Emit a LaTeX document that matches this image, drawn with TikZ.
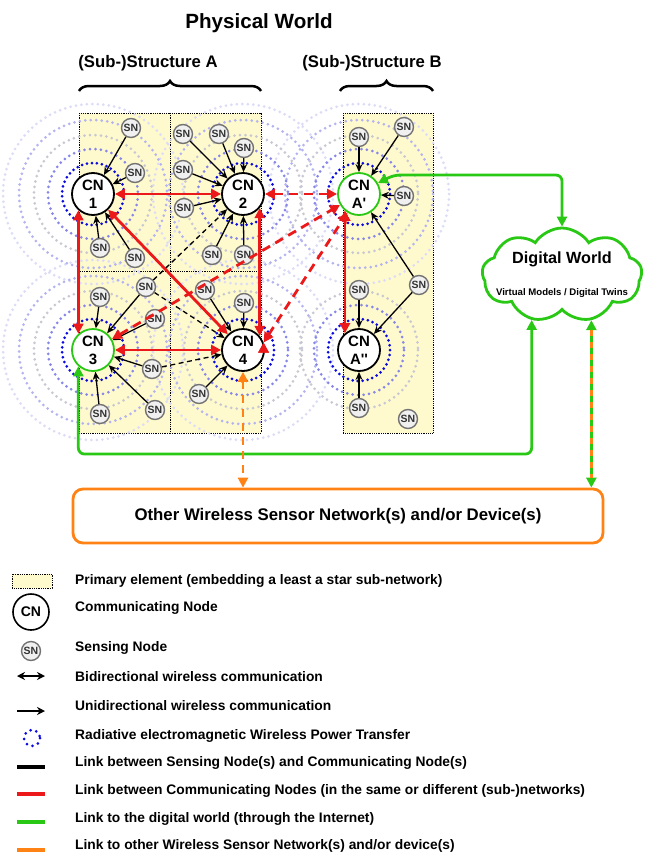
\documentclass[tikz,border=0pt]{standalone}
\usepackage{fontspec}
\setmainfont{Liberation Sans}[Ligatures=TeXOff]
\usetikzlibrary{arrows.meta,shapes.symbols,decorations.pathreplacing}

\definecolor{linkred}{RGB}{235,25,25}
\definecolor{linkgreen}{RGB}{40,200,20}
\definecolor{linkorange}{RGB}{255,130,20}
\definecolor{elemyellow}{RGB}{255,250,205}
\definecolor{wptblue}{RGB}{10,10,225}
\definecolor{wptlav}{RGB}{135,135,232}
\definecolor{wptgrey}{RGB}{200,200,210}
\definecolor{wptpale}{RGB}{180,180,240}
\definecolor{wptfaint}{RGB}{220,220,247}
\definecolor{sngrey}{RGB}{115,115,115}

\tikzset{
    cn/.style={circle, draw, line width=1.8pt, fill=white, minimum size=42pt, inner sep=0pt, align=center, font=\bfseries\fontsize{15}{18}\selectfont},
    sn/.style={circle, draw=sngrey, line width=1.4pt, fill=gray!12, minimum size=19pt, inner sep=0pt, text=black!80, font=\bfseries\fontsize{10.5}{10.5}\selectfont},
    snlink/.style={-{Stealth[length=8pt,width=7pt]}, line width=1.3pt},
    sndash/.style={snlink, dash pattern=on 5pt off 3.5pt},
    cnlink/.style={{Triangle[length=10pt,width=10pt]}-{Triangle[length=10pt,width=10pt]}, linkred, line width=2.8pt},
    cndash/.style={cnlink, dash pattern=on 9pt off 6pt},
    dwlink/.style={{Triangle[length=10pt,width=10pt]}-{Triangle[length=10pt,width=10pt]}, linkgreen, line width=2.8pt, rounded corners=6pt},
    owlink/.style={{Triangle[length=10pt,width=10pt]}-{Triangle[length=10pt,width=10pt]}, linkorange, line width=2.8pt, dash pattern=on 8pt off 6pt},
    elem/.style={fill=elemyellow, draw, densely dotted, line width=0.8pt},
    ring/.style={line width=3pt, line cap=round, dash pattern=on 0pt off 5.5pt},
    structbrace/.style={decorate, decoration={brace, amplitude=10pt}, line width=2.5pt},
    worldtitle/.style={font=\bfseries\fontsize{20.6}{22}\selectfont},
    structtitle/.style={font=\bfseries\fontsize{16.7}{18}\selectfont},
    legtext/.style={anchor=west, inner sep=0pt, font=\bfseries\fontsize{13.8}{15}\selectfont}
}

\begin{document}
\begin{tikzpicture}[x=1pt, y=-1pt]
        \useasboundingbox (0,0) rectangle (646,854);

        \node[worldtitle] (pw) at (259,23) {Physical World};
        \node[structtitle] (sta) at (148,63) {(Sub-)Structure A};
        \node[structtitle] (stb) at (372,63) {(Sub-)Structure B};
        \draw[structbrace] (79,91) -- (261,91);
        \draw[structbrace] (340,91) -- (433,91);

        \filldraw[elem] (79,113) rectangle (170,271);
        \filldraw[elem] (170,113) rectangle (261,271);
        \filldraw[elem] (79,271) rectangle (170,433);
        \filldraw[elem] (170,271) rectangle (261,433);
        \filldraw[elem] (343,113) rectangle (433,433);

        \coordinate (p1) at (93,194);
        \coordinate (p2) at (243,194);
        \coordinate (p3) at (93,350);
        \coordinate (p4) at (243,350);
        \coordinate (pa) at (359,194);
        \coordinate (pb) at (359,350);

        \draw[ring, wptfaint] (p1) circle[radius=90] (p2) circle[radius=90] (p3) circle[radius=90] (p4) circle[radius=90] (pa) circle[radius=90];
        \draw[ring, wptpale] (p1) circle[radius=74] (p2) circle[radius=74] (p3) circle[radius=74] (p4) circle[radius=74] (pa) circle[radius=74];
        \draw[ring, wptgrey] (p1) circle[radius=59] (p2) circle[radius=59] (p3) circle[radius=59] (p4) circle[radius=59] (pa) circle[radius=59] (pb) circle[radius=59];
        \draw[ring, wptlav] (p1) circle[radius=45] (p2) circle[radius=45] (p3) circle[radius=45] (p4) circle[radius=45] (pa) circle[radius=45] (pb) circle[radius=45];
        \draw[ring, wptblue, dash pattern=on 0pt off 5pt] (p1) circle[radius=31] (p2) circle[radius=31] (p3) circle[radius=31] (p4) circle[radius=31] (pa) circle[radius=31] (pb) circle[radius=31];

        \node[cn] (CN1) at (p1) {CN\\1};
        \node[cn] (CN2) at (p2) {CN\\2};
        \node[cn, draw=linkgreen] (CN3) at (p3) {CN\\3};
        \node[cn] (CN4) at (p4) {CN\\4};
        \node[cn, draw=linkgreen] (CNa) at (pa) {CN\\A'};
        \node[cn] (CNb) at (pb) {CN\\A''};

        \node[sn] (s11) at (131,128) {SN};
        \node[sn] (s12) at (135,173) {SN};
        \node[sn] (s13) at (100,248) {SN};
        \node[sn] (s14) at (135,258) {SN};
        \node[sn] (s21) at (183,134) {SN};
        \node[sn] (s22) at (219,134) {SN};
        \node[sn] (s23) at (244,148) {SN};
        \node[sn] (s24) at (183,170) {SN};
        \node[sn] (s25) at (184,208) {SN};
        \node[sn] (s26) at (212,255) {SN};
        \node[sn] (s27) at (244,255) {SN};
        \node[sn] (s31) at (100,297) {SN};
        \node[sn] (s32) at (146,287) {SN};
        \node[sn] (s33) at (155,319) {SN};
        \node[sn] (s34) at (152,369) {SN};
        \node[sn] (s35) at (100,414) {SN};
        \node[sn] (s36) at (155,410) {SN};
        \node[sn] (s41) at (205,290) {SN};
        \node[sn] (s42) at (244,303) {SN};
        \node[sn] (s43) at (199,394) {SN};
        \node[sn] (sa1) at (359,137) {SN};
        \node[sn] (sa2) at (404,127) {SN};
        \node[sn] (sa3) at (404,196) {SN};
        \node[sn] (sa4) at (419,285) {SN};
        \node[sn] (sb1) at (359,290) {SN};
        \node[sn] (sb2) at (359,408) {SN};
        \node[sn] (sb3) at (408,419) {SN};

        \draw[snlink] (s11) edge (CN1) (s12) edge (CN1) (s13) edge (CN1) (s14) edge (CN1);
        \draw[snlink] (s21) edge (CN2) (s22) edge (CN2) (s23) edge (CN2) (s24) edge (CN2) (s25) edge (CN2) (s26) edge (CN2) (s27) edge (CN2);
        \draw[snlink] (s31) edge (CN3) (s32) edge (CN3) (s33) edge (CN3) (s34) edge (CN3) (s35) edge (CN3) (s36) edge (CN3);
        \draw[snlink] (s41) edge (CN4) (s42) edge (CN4) (s43) edge (CN4);
        \draw[snlink] (sa1) edge (CNa) (sa2) edge (CNa) (sa3) edge (CNa) (sa4) edge (CNa) (sa4) edge (CNb) (sb1) edge (CNb) (sb2) edge (CNb);
        \draw[sndash] (s32) edge (CN2) (s32) edge (CN4) (s34) edge (CN4);

        \draw[cnlink] (CN1) edge (CN2) (CN1) edge (CN4) (CN3) edge (CN4) (CN1.-132) edge (CN3.132) (CN2.-40) edge (CN4.40) (CNa.-130) edge (CNb.130);
        \draw[cndash] (CN2) edge (CNa) (CN3.30) edge (CNa.-150) (CN4.20) edge (CNa.-122);

        \node[cloud, cloud puffs=9, cloud puff arc=115, aspect=1.7, draw=linkgreen, line width=2.8pt, fill=white, minimum width=160pt, minimum height=94pt, inner sep=0pt] (dw) at (562,275) {};
        \node[font=\bfseries\fontsize{16.2}{17}\selectfont] (dwtitle) at (562,259) {Digital World};
        \node[font=\bfseries\fontsize{9.6}{10}\selectfont] (dwtwins) at (562,293) {Virtual Models / Digital Twins};

        \node[draw=linkorange, line width=2.8pt, rounded corners=10pt, minimum width=530pt, minimum height=54pt, font=\bfseries\fontsize{16.8}{18}\selectfont] (ow) at (338,516) {Other Wireless Sensor Network(s) and/or Device(s)};

        \draw[dwlink] (CNa.30) -- ++(16,-8) -| (dw.north);
        \draw[dwlink] (dw.-124) -- (dw.-124 |- 0,454) -| (CN3.-132);
        \draw[dwlink] (dw.-57) -- (dw.-57 |- ow.north);
        \draw[linkorange, line width=2.8pt, dash pattern=on 6pt off 6pt, shorten <=10pt, shorten >=10pt] (dw.-57) -- (dw.-57 |- ow.north);
        \draw[owlink] (CN4.south) -- (CN4.south |- ow.north);

        \filldraw[elem] (12,574) rectangle (52,588);
        \node[legtext] (lg1) at (75,581) {Primary element (embedding a least a star sub-network)};
        \node[cn, minimum size=36pt, line width=1.6pt, font=\bfseries\fontsize{14}{14}\selectfont] (lgcn) at (31,612) {CN};
        \node[legtext] (lg2) at (75,608) {Communicating Node};
        \node[sn] (lgsn) at (31,651) {SN};
        \node[legtext] (lg3) at (75,648) {Sensing Node};
        \draw[{Stealth[length=8pt,width=8pt]}-{Stealth[length=8pt,width=8pt]}, line width=1.6pt] (17,676) -- (45,676);
        \node[legtext] (lg4) at (75,677) {Bidirectional wireless communication};
        \draw[-{Stealth[length=8pt,width=8pt]}, line width=1.6pt] (17,711) -- (45,711);
        \node[legtext] (lg5) at (75,706) {Unidirectional wireless communication};
        \draw[ring, wptblue, dash pattern=on 0pt off 6pt] (32,738) circle[radius=8];
        \node[legtext] (lg6) at (75,736) {Radiative electromagnetic Wireless Power Transfer};
        \draw[line width=4pt] (17,767) -- (45,767);
        \node[legtext] (lg7) at (75,763) {Link between Sensing Node(s) and Communicating Node(s)};
        \draw[linkred, line width=4pt] (17,794) -- (45,794);
        \node[legtext] (lg8) at (75,791) {Link between Communicating Nodes (in the same or different (sub-)networks)};
        \draw[linkgreen, line width=4pt] (17,822) -- (45,822);
        \node[legtext] (lg9) at (75,819) {Link to the digital world (through the Internet)};
        \draw[linkorange, line width=4pt] (17,850) -- (45,850);
        \node[legtext] (lg10) at (75,846) {Link to other Wireless Sensor Network(s) and/or device(s)};
    \end{tikzpicture}
\end{document}
